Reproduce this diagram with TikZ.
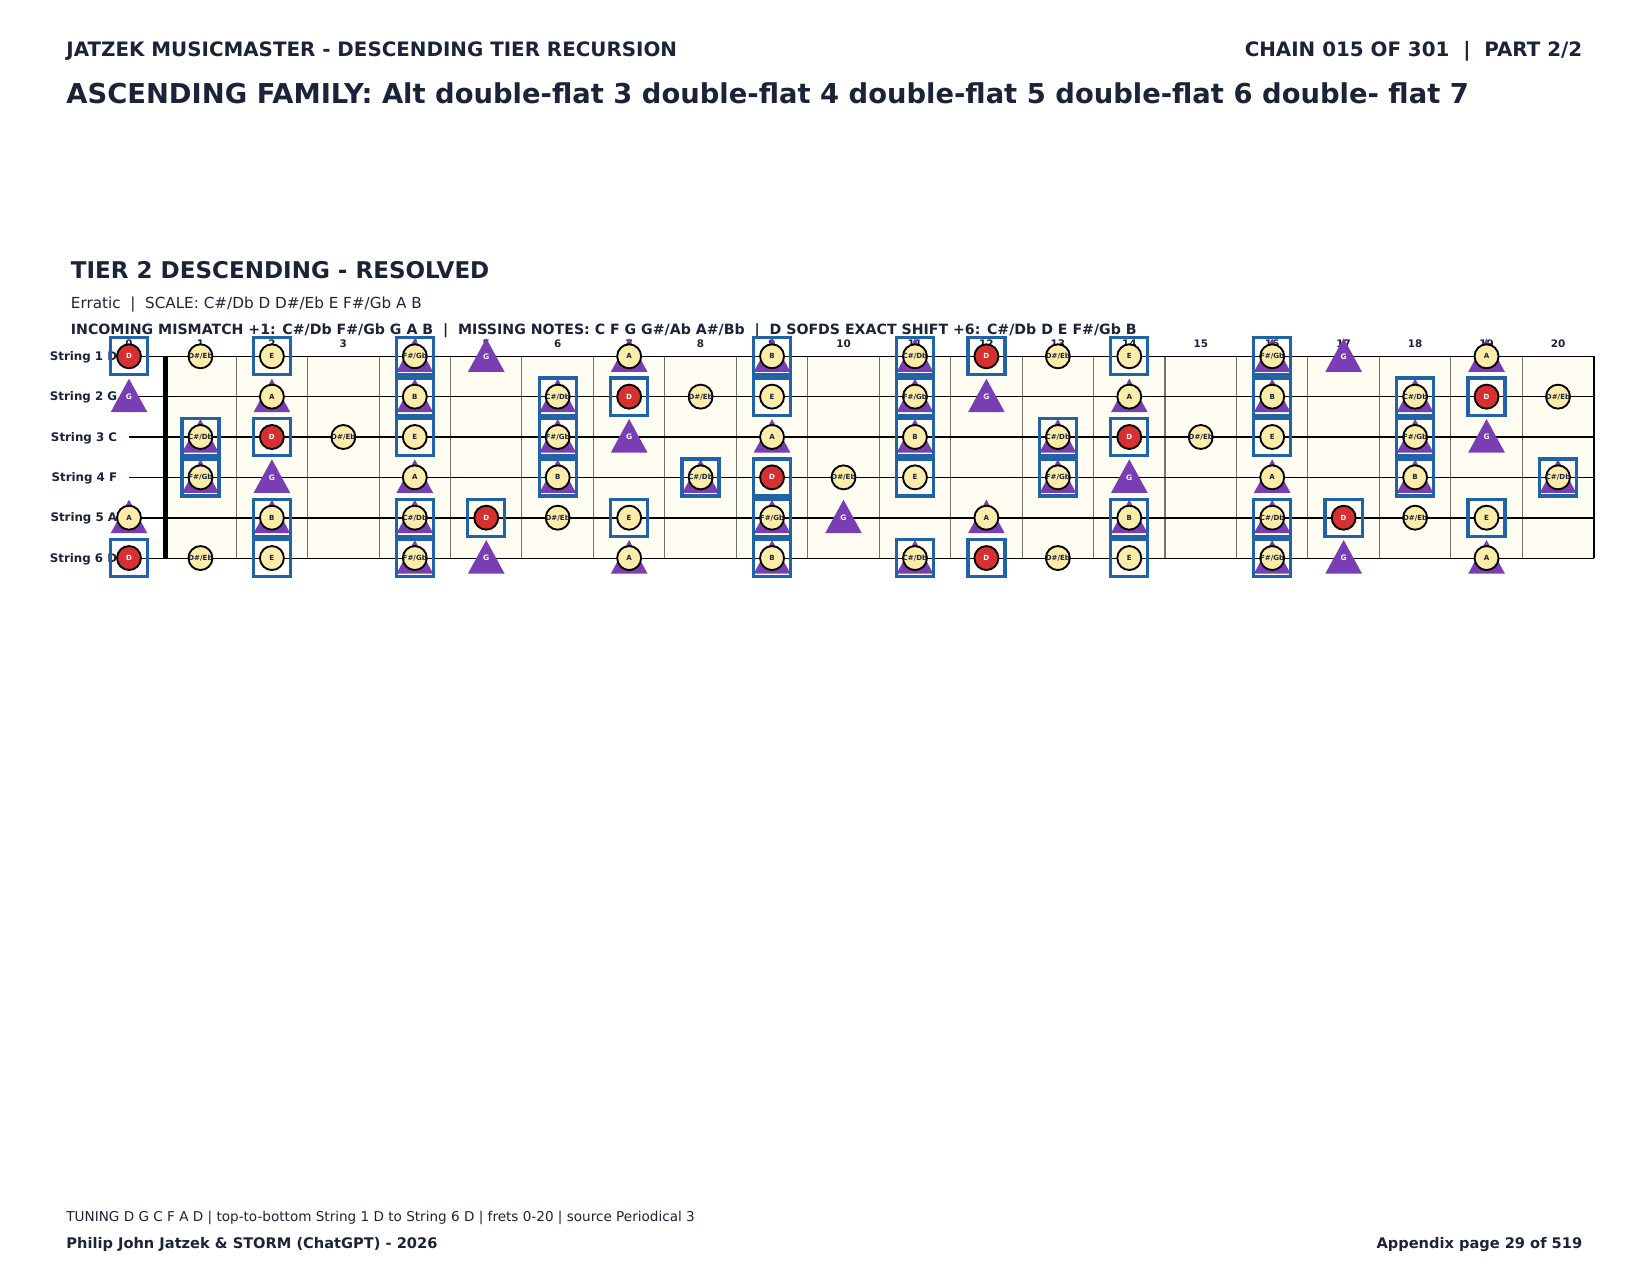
\documentclass[tikz,border=0pt]{standalone}
\usepackage{fontspec}
\setmainfont{DejaVu Sans}

\definecolor{ink}{RGB}{27,35,56}
\definecolor{tripurple}{RGB}{122,62,180}
\definecolor{boxblue}{RGB}{31,100,168}
\definecolor{rootred}{RGB}{214,48,48}
\definecolor{notecream}{RGB}{252,236,170}
\definecolor{boardcream}{RGB}{255,253,241}
\definecolor{fretgray}{RGB}{115,115,115}

\newcommand{\notename}[1]{\ifcase#1 C\or C\#/Db\or D\or D\#/Eb\or E\or F\or F\#/Gb\or G\or G\#/Ab\or A\or A\#/Bb\or B\fi}

\begin{document}
\begin{tikzpicture}[x=0.016933cm, y=-0.016933cm,
  hdr/.style={inner sep=0, text=ink, font=\bfseries\fontsize{9.57}{11}\selectfont},
  bigtitle/.style={anchor=base west, inner sep=0, text=ink, font=\bfseries\fontsize{13.19}{15}\selectfont},
  tiertitle/.style={anchor=base west, inner sep=0, text=ink, font=\bfseries\fontsize{11.1}{13}\selectfont},
  infoline/.style={anchor=base west, inner sep=0, text=ink, font=\fontsize{7.33}{9}\selectfont},
  boldline/.style={anchor=base west, inner sep=0, text=ink, font=\bfseries\fontsize{6.82}{8}\selectfont},
  footline/.style={inner sep=0, text=ink, font=\bfseries\fontsize{7.04}{9}\selectfont},
  fretnum/.style={anchor=base, inner sep=0, text=ink, font=\bfseries\fontsize{5}{6}\selectfont},
  strlabel/.style={anchor=base east, inner sep=0, text=ink, font=\bfseries\fontsize{5.7}{7}\selectfont},
  notedot/.style={circle, draw=black, line width=0.9pt, fill=notecream, minimum size=0.406cm, inner sep=0},
  rootdot/.style={notedot, fill=rootred},
  notetxt/.style={inner sep=0, text=ink, font=\bfseries\fontsize{3.4}{4}\selectfont},
  roottxt/.style={notetxt, text=white},
  boxq/.style={draw=boxblue, line width=1.6pt, minimum size=0.627cm, inner sep=0}]

\useasboundingbox (0,0) rectangle (1650,1275);

% header
  \node[hdr, anchor=base west] (hleft) at (66,56.5) {JATZEK MUSICMASTER - DESCENDING TIER RECURSION};
  \node[hdr, anchor=base east] (hright) at (1582.6,56.5) {CHAIN 015 OF 301\ \ |\ \ PART 2/2};
  \node[bigtitle] (title) at (66,104) {ASCENDING FAMILY: Alt double-flat 3 double-flat 4 double-flat 5 double-flat 6 double- flat 7};

% tier heading
  \node[tiertitle] (tier) at (70.5,278.5) {TIER 2 DESCENDING - RESOLVED};
  \node[infoline] (scale) at (70.5,308.3) {Erratic\ \ |\ \ SCALE: C\#/Db D D\#/Eb E F\#/Gb A B};
  \node[boldline] (shift) at (70.5,334.3) {INCOMING MISMATCH +1: C\#/Db F\#/Gb G A B\ \ |\ \ MISSING NOTES: C F G G\#/Ab A\#/Bb\ \ |\ \ D SOFDS EXACT SHIFT +6: C\#/Db D E F\#/Gb B};

% board and fret wires
  \fill[boardcream] (165.5,356.3) rectangle (1593.7,558);
  \foreach \f in {1,...,19}
    \draw[fretgray, line width=0.5pt] (164.7+71.45*\f,356.3) -- (164.7+71.45*\f,558);
  \draw[black, line width=0.8pt] (1593.7,356.3) -- (1593.7,558);

% fret numbers
  \foreach \f in {0,...,20}
    \node[fretnum] (fn\f) at (129+71.45*\f,347) {\f};

% strings with labels
  \foreach \s/\nm/\w in {1/D/0.5pt,2/G/0.5pt,3/C/0.9pt,4/F/0.5pt,5/A/0.9pt,6/D/0.5pt}{
    \pgfmathsetmacro\y{356.3+40.35*(\s-1)}
    \node[strlabel] (sl\s) at (117.5,\y+4.2) {String \s\ \nm};
    \draw[black, line width=\w] (129,\y) -- (1593.7,\y);
  }

% nut
  \draw[black, line width=2.3pt] (165.5,356.3) -- (165.5,558);

% note markers: triangle = incoming, box = exact shift, dot = scale
  \foreach \s/\open in {1/2,2/7,3/0,4/5,5/9,6/2}{
    \foreach \f in {0,...,20}{
      \pgfmathsetmacro\x{129+71.45*\f}
      \pgfmathsetmacro\y{356.3+40.35*(\s-1)}
      \pgfmathtruncatemacro\pc{mod(\open+\f,12)}
      \pgfmathtruncatemacro\hastri{(\pc==1)||(\pc==6)||(\pc==7)||(\pc==9)||(\pc==11)}
      \pgfmathtruncatemacro\hasbox{(\pc==1)||(\pc==2)||(\pc==4)||(\pc==6)||(\pc==11)}
      \pgfmathtruncatemacro\hasdot{(\pc==1)||(\pc==2)||(\pc==3)||(\pc==4)||(\pc==6)||(\pc==9)||(\pc==11)}
      \ifnum\hastri=1
        \fill[tripurple] (\x,\y-18) -- (\x-18.3,\y+15.5) -- (\x+18.3,\y+15.5) -- cycle;
      \fi
      \ifnum\hasbox=1
        \node[boxq] (q\s-\f) at (\x,\y) {};
      \fi
      \ifnum\pc=7
        \node[roottxt, font=\bfseries\fontsize{3.6}{4}\selectfont] (t\s-\f) at (\x,\y) {G};
      \fi
      \ifnum\hasdot=1
        \ifnum\pc=2
          \node[rootdot] (n\s-\f) at (\x,\y) {};
          \node[roottxt] (t\s-\f) at (n\s-\f) {D};
        \else
          \node[notedot] (n\s-\f) at (\x,\y) {};
          \node[notetxt] (t\s-\f) at (n\s-\f) {\notename{\pc}};
        \fi
      \fi
    }
  }

% footer
  \node[infoline, font=\fontsize{6.54}{8}\selectfont] (tuning) at (66,1221.5) {TUNING D G C F A D | top-to-bottom String 1 D to String 6 D | frets 0-20 | source Periodical 3};
  \node[footline, anchor=base west] (authors) at (66,1248.5) {Philip John Jatzek \& STORM (ChatGPT) - 2026};
  \node[footline, anchor=base east] (pageno) at (1582.6,1248.5) {Appendix page 29 of 519};

\end{tikzpicture}
\end{document}
